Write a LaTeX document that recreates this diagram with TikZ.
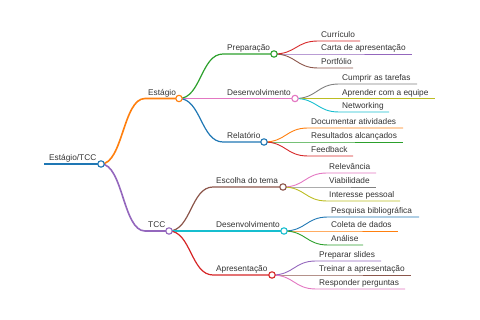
\documentclass[tikz,border=0pt]{standalone}
\usepackage{fontspec}
\setmainfont{Liberation Sans}
\usetikzlibrary{calc}
\definecolor{mmblue}{HTML}{1F77B4}
\definecolor{mmorange}{HTML}{FF7F0E}
\definecolor{mmgreen}{HTML}{2CA02C}
\definecolor{mmred}{HTML}{D62728}
\definecolor{mmpurple}{HTML}{9467BD}
\definecolor{mmbrown}{HTML}{8C564B}
\definecolor{mmpink}{HTML}{E377C2}
\definecolor{mmgray}{HTML}{7F7F7F}
\definecolor{mmolive}{HTML}{BCBD22}
\definecolor{mmcyan}{HTML}{17BECF}
\definecolor{mmtext}{HTML}{333333}

\begin{document}
\begin{tikzpicture}[
    x=1pt, y=-1pt,
    font=\fontsize{8.3}{10}\selectfont,
    lbl/.style={anchor=base west, inner sep=0pt, text=mmtext},
    mmlink/.style={to path={let \p1=(\tikztostart), \p2=(\tikztotarget) in
        .. controls ({(\x1+\x2)/2},\y1) and ({(\x1+\x2)/2},\y2) .. (\tikztotarget)}},
    rootline/.style={line width=2.2pt},
    lvlone/.style={line width=1.6pt},
    lvltwo/.style={line width=1.2pt},
    leafline/.style={line width=0.9pt},
    dot/.style={circle, fill=white, line width=1.1pt, minimum size=6.4pt, inner sep=0pt}
]
\useasboundingbox (0,0) rectangle (480,320);

% -------- root --------
\coordinate (root-s) at (44,164);
\coordinate (root-e) at (101,164);
\node[lbl] (root) at (49,161) {Estágio/TCC};
\draw[rootline, mmblue] (root-s) -- (root-e);

% -------- first level --------
\coordinate (est-s) at (145,98.5);
\coordinate (est-e) at (179,98.5);
\node[lbl] (est) at (148,95.5) {Estágio};
\draw[lvlone, mmorange] (root-e) to[mmlink] (est-s) -- (est-e);

\coordinate (tcc-s) at (145,231);
\coordinate (tcc-e) at (169,231);
\node[lbl] (tcc) at (148,228) {TCC};
\draw[lvlone, mmpurple] (root-e) to[mmlink] (tcc-s) -- (tcc-e);

% -------- second level: Estágio --------
\foreach \nm/\yy/\xe/\col/\txt in {prep/54/274/mmgreen/Preparação,
    desA/98.5/295/mmpink/Desenvolvimento, rel/142/264/mmblue/Relatório}{
    \coordinate (\nm-s) at (223,\yy);
    \coordinate (\nm-e) at (\xe,\yy);
    \node[lbl] (\nm) at (227,\yy-3) {\txt};
    \draw[lvltwo, \col] (est-e) to[mmlink] (\nm-s) -- (\nm-e);
}

% -------- second level: TCC --------
\foreach \nm/\yy/\xe/\col/\txt in {esc/187/283/mmbrown/Escolha do tema,
    desB/231/284/mmcyan/Desenvolvimento, apr/275/272/mmred/Apresentação}{
    \coordinate (\nm-s) at (213,\yy);
    \coordinate (\nm-e) at (\xe,\yy);
    \node[lbl] (\nm) at (216,\yy-3) {\txt};
    \draw[lvltwo, \col] (tcc-e) to[mmlink] (\nm-s) -- (\nm-e);
}

% -------- leaves --------
\foreach \yy/\xe/\col/\txt [count=\i] in {41/360/mmred/Currículo,
    54/412/mmpurple/Carta de apresentação, 68/353/mmbrown/Portfólio}{
    \coordinate (prep-\i-s) at (318,\yy);
    \coordinate (prep-\i-e) at (\xe,\yy);
    \node[lbl] (prep-\i) at (321,\yy-3) {\txt};
    \draw[leafline, \col] (prep-e) to[mmlink] (prep-\i-s) -- (prep-\i-e);
}
\foreach \yy/\xe/\col/\txt [count=\i] in {84/417/mmgray/Cumprir as tarefas,
    98.5/435/mmolive/Aprender com a equipe, 112/389/mmcyan/Networking}{
    \coordinate (desA-\i-s) at (339,\yy);
    \coordinate (desA-\i-e) at (\xe,\yy);
    \node[lbl] (desA-\i) at (342,\yy-3) {\txt};
    \draw[leafline, \col] (desA-e) to[mmlink] (desA-\i-s) -- (desA-\i-e);
}
\foreach \yy/\xe/\col/\txt [count=\i] in {128/403/mmorange/Documentar atividades,
    142/403/mmgreen/Resultados alcançados, 156/353/mmred/Feedback}{
    \coordinate (rel-\i-s) at (308,\yy);
    \coordinate (rel-\i-e) at (\xe,\yy);
    \node[lbl] (rel-\i) at (311,\yy-3) {\txt};
    \draw[leafline, \col] (rel-e) to[mmlink] (rel-\i-s) -- (rel-\i-e);
}
\foreach \yy/\xe/\col/\txt [count=\i] in {173/376/mmpink/Relevância,
    187/376/mmgray/Viabilidade, 201/400/mmolive/Interesse pessoal}{
    \coordinate (esc-\i-s) at (327,\yy);
    \coordinate (esc-\i-e) at (\xe,\yy);
    \node[lbl] (esc-\i) at (329,\yy-3) {\txt};
    \draw[leafline, \col] (esc-e) to[mmlink] (esc-\i-s) -- (esc-\i-e);
}
\foreach \yy/\xe/\col/\txt [count=\i] in {217/419/mmblue/Pesquisa bibliográfica,
    231/398/mmorange/Coleta de dados, 245/363/mmgreen/Análise}{
    \coordinate (desB-\i-s) at (328,\yy);
    \coordinate (desB-\i-e) at (\xe,\yy);
    \node[lbl] (desB-\i) at (331,\yy-3) {\txt};
    \draw[leafline, \col] (desB-e) to[mmlink] (desB-\i-s) -- (desB-\i-e);
}
\foreach \yy/\xe/\col/\txt [count=\i] in {261/381/mmpurple/Preparar slides,
    275/411/mmbrown/Treinar a apresentação, 289/405/mmpink/Responder perguntas}{
    \coordinate (apr-\i-s) at (316,\yy);
    \coordinate (apr-\i-e) at (\xe,\yy);
    \node[lbl] (apr-\i) at (319,\yy-3) {\txt};
    \draw[leafline, \col] (apr-e) to[mmlink] (apr-\i-s) -- (apr-\i-e);
}

% -------- fold circles on top --------
\foreach \nm/\col in {root/mmblue, est/mmorange, tcc/mmpurple, prep/mmgreen,
    desA/mmpink, rel/mmblue, esc/mmbrown, desB/mmcyan, apr/mmred}
    \node[dot, draw=\col] (\nm-dot) at (\nm-e) {};

\end{tikzpicture}
\end{document}
